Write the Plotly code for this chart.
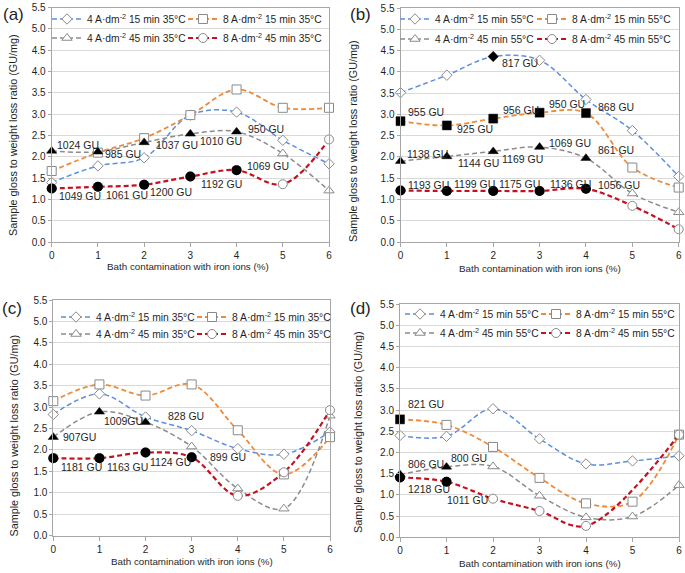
import plotly.graph_objects as go

# ---------------- data ----------------
fe_pct = [0, 1, 2, 3, 4, 5, 6]
y_ticks = [0, 0.5, 1, 1.5, 2, 2.5, 3, 3.5, 4, 4.5, 5, 5.5]
x_title = "Bath contamination with iron ions (%)"
y_title = "Sample gloss to weight loss ratio (GU/mg)"

names_35 = ["4 A·dm<sup>-2</sup> 15 min 35°C", "8 A·dm<sup>-2</sup> 15 min 35°C",
            "4 A·dm<sup>-2</sup> 45 min 35°C", "8 A·dm<sup>-2</sup> 45 min 35°C"]
names_55 = ["4 A·dm<sup>-2</sup> 15 min 55°C", "8 A·dm<sup>-2</sup> 15 min 55°C",
            "4 A·dm<sup>-2</sup> 45 min 55°C", "8 A·dm<sup>-2</sup> 45 min 55°C"]

# panel (a)
a_4A15 = [1.40, 1.79, 1.98, 2.98, 3.05, 2.39, 1.84]
a_8A15 = [1.67, 2.10, 2.44, 2.98, 3.58, 3.15, 3.15]
a_4A45 = [2.14, 2.12, 2.34, 2.54, 2.59, 2.08, 1.21]
a_8A45 = [1.26, 1.30, 1.35, 1.54, 1.69, 1.36, 2.41]
a_4A15_gu = [None] * 7
a_8A15_gu = [None] * 7
a_4A45_gu = ["1024 GU", "985 GU", "1037 GU", "1010 GU", "950 GU", None, None]
a_8A45_gu = ["1049 GU", "1061 GU", "1200 GU", "1192 GU", "1069 GU", None, None]

# panel (b)
b_4A15 = [3.51, 3.92, 4.36, 4.27, 3.35, 2.62, 1.54]
b_8A15 = [2.84, 2.74, 2.90, 3.04, 3.03, 1.75, 1.28]
b_4A45 = [1.90, 2.01, 2.13, 2.23, 1.97, 1.14, 0.70]
b_8A45 = [1.21, 1.20, 1.20, 1.20, 1.25, 0.85, 0.30]
b_4A15_gu = [None, None, "817 GU", None, None, None, None]
b_8A15_gu = ["955 GU", "925 GU", "956 GU", "950 GU", "868 GU", None, None]
b_4A45_gu = ["1138 GU", "1144 GU", "1169 GU", "1069 GU", "861 GU", None, None]
b_8A45_gu = ["1193 GU", "1199 GU", "1175 GU", "1136 GU", "1056 GU", None, None]

# panel (c)
c_4A15 = [2.83, 3.31, 2.77, 2.45, 2.03, 1.90, 2.42]
c_8A15 = [3.14, 3.53, 3.27, 3.53, 2.46, 1.43, 2.30]
c_4A45 = [2.30, 2.89, 2.65, 2.08, 1.10, 0.63, 2.80]
c_8A45 = [1.81, 1.81, 1.94, 1.83, 0.93, 1.48, 2.93]
c_4A15_gu = [None] * 7
c_8A15_gu = [None] * 7
c_4A45_gu = ["907GU", "1009GU", "828 GU", None, None, None, None]
c_8A45_gu = ["1181 GU", "1163 GU", "1124 GU", "899 GU", None, None, None]

# panel (d)
d_4A15 = [2.40, 2.38, 3.03, 2.32, 1.73, 1.80, 1.92]
d_8A15 = [2.78, 2.65, 2.13, 1.40, 0.80, 0.84, 2.42]
d_4A45 = [1.48, 1.66, 1.67, 0.98, 0.47, 0.49, 1.23]
d_8A45 = [1.41, 1.31, 0.91, 0.62, 0.27, None, 2.42]
d_4A15_gu = [None] * 7
d_8A15_gu = ["821 GU", None, None, None, None, None, None]
d_4A45_gu = ["806 GU", "800 GU", None, None, None, None, None]
d_8A45_gu = ["1218 GU", "1011 GU", None, None, None, None, None]

# ---------------- styling ----------------
W, H = 685, 573
FONT = "Liberation Sans, Arial, sans-serif"
TXT = "#1f1f1f"
line_colors = ["#5B8FE0", "#EE8A3A", "#8C8C8C", "#C41020"]
line_widths = [1.5, 1.8, 1.5, 2.2]
symbols = ["diamond", "square", "triangle-up", "circle"]
msizes = [8, 9, 9, 9]
fsizes = [8, 9, 9, 10]
hollow_outline = "#8A8A8A"
DASH = "5px,3px"

# plot-area pixel boxes: (left, right, top, bottom)
boxes = [(51.7, 329.0, 7.5, 242.3),
         (400.5, 678.7, 8.0, 242.0),
         (53.3, 330.0, 300.0, 535.7),
         (400.0, 679.0, 304.0, 537.3)]
panel_tags = ["(a)", "(b)", "(c)", "(d)"]
panel_tag_pos = [(13, 15), (360, 15), (12, 308), (360, 308)]
xtitle_pos = [(188, 266), (540, 268.5), (192, 561.5), (540, 563)]
ytitle_pos = [(13, 135), (353, 141), (13.5, 436), (358, 432)]

# label offsets (px, right / up) for the GU annotations, per panel/series/point
gu_offsets = {
    (0, 2): [(3, 6), (5, -2), (10, -3), (8, -7), (9, 3)],
    (0, 3): [(5, -7), (6, -8), (4, -7), (9, -7), (8, 4)],
    (1, 0): [None, None, (7, -7)],
    (1, 1): [(5, 9), (8, -4), (8, 9), (7, 9), (10, 6)],
    (1, 2): [(4, 7), (9, -7), (7, -8), (7, 4), (10, 8)],
    (1, 3): [(5, 6), (5, 7), (4, 7), (8, 7), (10, 4)],
    (2, 2): [(8, 0), (3, -9), (20, 6)],
    (2, 3): [(6, -9), (6, -9), (2, -9), (16, 0)],
    (3, 1): [(6, 15)],
    (3, 2): [(6, 11), (3, 9)],
    (3, 3): [(6, -12), (-1, -18)],
}

# legend rows (pixel y of row centres) and legend-marker centres of the two columns
legend_rows = [(19, 38), (19, 39), (317, 334), (314, 333)]
legend_cols = [(67, 203), (415, 552), (76, 212), (420, 556)]

panels = [
    (names_35, [a_4A15, a_8A15, a_4A45, a_8A45], [a_4A15_gu, a_8A15_gu, a_4A45_gu, a_8A45_gu]),
    (names_55, [b_4A15, b_8A15, b_4A45, b_8A45], [b_4A15_gu, b_8A15_gu, b_4A45_gu, b_8A45_gu]),
    (names_35, [c_4A15, c_8A15, c_4A45, c_8A45], [c_4A15_gu, c_8A15_gu, c_4A45_gu, c_8A45_gu]),
    (names_55, [d_4A15, d_8A15, d_4A45, d_8A45], [d_4A15_gu, d_8A15_gu, d_4A45_gu, d_8A45_gu]),
]

fig = go.Figure()
annotations = []
layout = {}

for p, (names, series, gus) in enumerate(panels):
    sfx = "" if p == 0 else str(p + 1)
    xref, yref = "x" + sfx, "y" + sfx
    # main lines with hollow (white-filled) markers, one legend per entry
    for s in range(4):
        k = 4 * p + s + 1
        leg = "legend" if k == 1 else "legend" + str(k)
        fig.add_trace(go.Scatter(
            x=fe_pct, y=series[s], name=names[s], mode="lines+markers",
            xaxis=xref, yaxis=yref, connectgaps=True, cliponaxis=False, legend=leg,
            line=dict(color=line_colors[s], width=line_widths[s], dash=DASH,
                      shape="spline", smoothing=1.0),
            marker=dict(symbol=symbols[s], size=msizes[s], color="white",
                        line=dict(color=hollow_outline, width=1)),
        ))
        ry = legend_rows[p][0 if s < 2 else 1]
        cx = legend_cols[p][s % 2]
        layout[leg] = dict(
            orientation="h", x=(cx - 20) / W, xanchor="left", y=1 - ry / H,
            yanchor="middle", bgcolor="rgba(0,0,0,0)", borderwidth=0, itemwidth=30,
            font=dict(size=10.3, color=TXT))
    # filled markers for points carrying a gloss label
    for s in range(4):
        xs = [fe_pct[i] for i in range(7) if gus[s][i] is not None]
        ys = [series[s][i] for i in range(7) if gus[s][i] is not None]
        if xs:
            fig.add_trace(go.Scatter(
                x=xs, y=ys, mode="markers", showlegend=False, cliponaxis=False,
                xaxis=xref, yaxis=yref,
                marker=dict(symbol=symbols[s], size=fsizes[s], color="black"),
            ))
        for i in range(7):
            if gus[s][i] is not None:
                dx, dy = gu_offsets[(p, s)][i]
                annotations.append(dict(
                    x=fe_pct[i], y=series[s][i], xref=xref, yref=yref, text=gus[s][i],
                    showarrow=False, xanchor="left", yanchor="middle",
                    xshift=dx, yshift=dy, font=dict(size=10.5, color=TXT)))

    l, r, t, b = boxes[p]
    layout["xaxis" + sfx] = dict(
        domain=[l / W, r / W], range=[0, 6], anchor=yref, tickvals=fe_pct,
        ticks="outside", ticklen=4, tickcolor="#A6A6A6", showline=True,
        linecolor="#A6A6A6", mirror=True, showgrid=False, zeroline=False,
        tickfont=dict(size=10, color=TXT))
    layout["yaxis" + sfx] = dict(
        domain=[1 - b / H, 1 - t / H], range=[0, 5.5], anchor=xref, tickvals=y_ticks,
        tickformat=".1f", ticks="outside", ticklen=3, tickcolor="#A6A6A6",
        showline=True, linecolor="#A6A6A6", mirror=True, showgrid=True,
        gridcolor="#D9D9D9", gridwidth=1, zeroline=False,
        tickfont=dict(size=10, color=TXT))
    tx, ty = xtitle_pos[p]
    annotations.append(dict(x=tx / W, y=1 - ty / H, xref="paper", yref="paper",
                            text=x_title, showarrow=False, xanchor="center",
                            yanchor="middle", font=dict(size=9.8, color=TXT)))
    tx, ty = ytitle_pos[p]
    annotations.append(dict(x=tx / W, y=1 - ty / H, xref="paper", yref="paper",
                            text=y_title, showarrow=False, textangle=-90,
                            xanchor="center", yanchor="middle",
                            font=dict(size=10.8, color=TXT)))
    tx, ty = panel_tag_pos[p]
    annotations.append(dict(x=tx / W, y=1 - ty / H, xref="paper", yref="paper",
                            text=panel_tags[p], showarrow=False, xanchor="center",
                            yanchor="middle", font=dict(size=17, color=TXT)))

fig.update_layout(
    width=W, height=H, margin=dict(l=0, r=0, t=0, b=0, autoexpand=False),
    paper_bgcolor="white", plot_bgcolor="white", hovermode=False,
    font=dict(family=FONT, size=10, color=TXT),
    annotations=annotations, **layout)

fig.write_html("out.html", config={"displayModeBar": False},
               post_script="document.body.style.margin='0px';"
                           "document.body.style.padding='0px';"
                           "document.body.style.overflow='hidden';")
